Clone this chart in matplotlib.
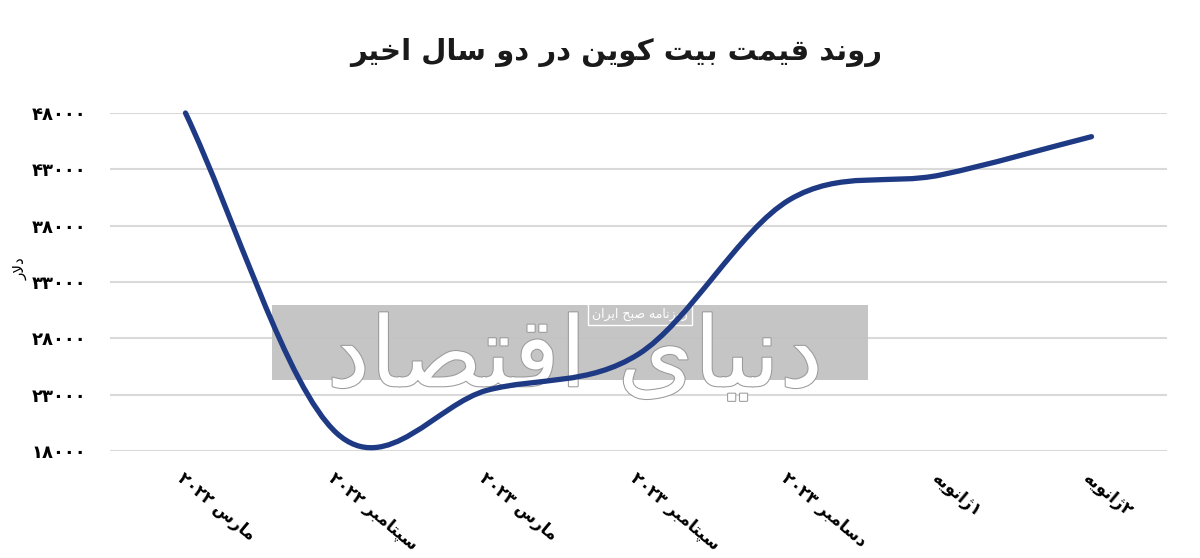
import matplotlib
matplotlib.use("Agg")
import matplotlib.pyplot as plt
import matplotlib.patheffects as pe
from matplotlib.path import Path
from matplotlib.patches import PathPatch, Rectangle

title = "روند قیمت بیت کوین در دو سال اخیر"
y_label = "دلار"
months = ["مارس ۲۰۲۲", "سپتامبر ۲۰۲۲", "مارس ۲۰۲۳", "سپتامبر ۲۰۲۳",
          "دسامبر ۲۰۲۳", "۱ژانویه", "۲ژانویه"]
price = [48000, 19600, 23400, 26600, 40300, 42500, 45900]
y_ticks = [18000, 23000, 28000, 33000, 38000, 43000, 48000]
watermark = "دنیای اقتصاد"
watermark_small = "روزنامه صبح ایران"

# matplotlib has no Arabic shaping, so map letters to presentation forms
# (isolated, final, initial, medial); None = letter never joins to the next one
FORMS = {
    "ا": ("\uFE8D", "\uFE8E", None, None),
    "ب": ("\uFE8F", "\uFE90", "\uFE91", "\uFE92"),
    "پ": ("\uFB56", "\uFB57", "\uFB58", "\uFB59"),
    "ت": ("\uFE95", "\uFE96", "\uFE97", "\uFE98"),
    "ج": ("\uFE9D", "\uFE9E", "\uFE9F", "\uFEA0"),
    "ح": ("\uFEA1", "\uFEA2", "\uFEA3", "\uFEA4"),
    "خ": ("\uFEA5", "\uFEA6", "\uFEA7", "\uFEA8"),
    "د": ("\uFEA9", "\uFEAA", None, None),
    "ر": ("\uFEAD", "\uFEAE", None, None),
    "ز": ("\uFEAF", "\uFEB0", None, None),
    "ژ": ("\uFB8A", "\uFB8B", None, None),
    "س": ("\uFEB1", "\uFEB2", "\uFEB3", "\uFEB4"),
    "ص": ("\uFEB9", "\uFEBA", "\uFEBB", "\uFEBC"),
    "ق": ("\uFED5", "\uFED6", "\uFED7", "\uFED8"),
    "ک": ("\uFB8E", "\uFB8F", "\uFB90", "\uFB91"),
    "ل": ("\uFEDD", "\uFEDE", "\uFEDF", "\uFEE0"),
    "م": ("\uFEE1", "\uFEE2", "\uFEE3", "\uFEE4"),
    "ن": ("\uFEE5", "\uFEE6", "\uFEE7", "\uFEE8"),
    "ه": ("\uFEE9", "\uFEEA", "\uFEEB", "\uFEEC"),
    "و": ("\uFEED", "\uFEEE", None, None),
    "ی": ("\uFBFC", "\uFBFD", "\uFBFE", "\uFBFF"),
}
DIGITS = "۰۱۲۳۴۵۶۷۸۹"


def fa(text):
    out = []
    prev_link = False
    i = 0
    while i < len(text):
        ch = text[i]
        if ch not in FORMS:
            out.append(ch)
            prev_link = False
            i += 1
            continue
        if ch == "ل" and i + 1 < len(text) and text[i + 1] == "ا":
            out.append("\uFEFC" if prev_link else "\uFEFB")
            prev_link = False
            i += 2
            continue
        iso, fin, ini, med = FORMS[ch]
        nxt = text[i + 1] if i + 1 < len(text) else ""
        next_link = ini is not None and nxt in FORMS
        if prev_link and next_link:
            out.append(med)
        elif prev_link:
            out.append(fin)
        elif next_link:
            out.append(ini)
        else:
            out.append(iso)
        prev_link = next_link
        i += 1
    # right-to-left: reverse, but keep digit runs left-to-right
    out.reverse()
    res, run = [], []
    for ch in out:
        if ch in DIGITS:
            run.append(ch)
        else:
            res.extend(reversed(run))
            run = []
            res.append(ch)
    res.extend(reversed(run))
    return "".join(res)


def fa_num(v):
    return str(v).translate(str.maketrans("0123456789", DIGITS))


def smooth_path(xs, ys):
    # Catmull-Rom style bezier through the points, like a spreadsheet "smoothed line"
    n = len(xs)
    m = []
    for i in range(n):
        if i == 0:
            m.append(ys[1] - ys[0])
        elif i == n - 1:
            m.append(ys[-1] - ys[-2])
        else:
            m.append((ys[i + 1] - ys[i - 1]) / 2)
    verts = [(xs[0], ys[0])]
    codes = [Path.MOVETO]
    for i in range(n - 1):
        dx = xs[i + 1] - xs[i]
        verts += [(xs[i] + dx / 3, ys[i] + m[i] * dx / 3),
                  (xs[i + 1] - dx / 3, ys[i + 1] - m[i + 1] * dx / 3),
                  (xs[i + 1], ys[i + 1])]
        codes += [Path.CURVE4] * 3
    return Path(verts, codes)


plt.rcParams["font.family"] = ["DejaVu Sans"]

fig = plt.figure(figsize=(12, 5.58), dpi=100)
ax = fig.add_axes([110 / 1200, 107 / 558, 1057 / 1200, 338 / 558])

x = list(range(len(months)))
ax.add_patch(PathPatch(smooth_path(x, price), fill=False, edgecolor="#1f3a85",
                       lw=3.8, capstyle="round", joinstyle="round",
                       zorder=5, clip_on=False))

ax.set_xlim(-0.5, len(months) - 0.5)
ax.set_ylim(18000, 48000)
ax.set_yticks(y_ticks)
ax.set_yticklabels([fa_num(v) for v in y_ticks], fontsize=13, fontweight="bold")
ax.set_xticks(x)
ax.set_xticklabels([fa(m) for m in months], fontsize=12, fontweight="bold",
                   rotation=-40, ha="left", va="top", rotation_mode="anchor")
ax.tick_params(axis="y", length=0, pad=17)
ax.tick_params(axis="x", length=0, pad=13)
ax.grid(axis="y", color="#d9d9d9", lw=1.5)
ax.set_axisbelow(True)
for s in ax.spines.values():
    s.set_visible(False)

ax.set_ylabel(fa(y_label), fontsize=11)
ax.yaxis.set_label_coords(-0.078, 0.54)

# newspaper watermark
ax.add_patch(Rectangle((0.153, 0.21), 0.564, 0.222, transform=ax.transAxes,
                       facecolor="#c2c2c2", edgecolor="none", alpha=0.95, zorder=2))
ax.text(0.44, 0.27, fa(watermark), transform=ax.transAxes, fontsize=70,
        color="white", ha="center", va="center", zorder=3,
        path_effects=[pe.withStroke(linewidth=1.5, foreground="#9a9a9a")])
ax.text(0.501, 0.405, fa(watermark_small), transform=ax.transAxes, fontsize=9,
        color="white", ha="center", va="center", zorder=4,
        bbox=dict(facecolor="none", edgecolor="white", lw=1, pad=3))

fig.text(616 / 1200, 1 - 52 / 558, fa(title), fontsize=21, fontweight="bold",
         color="#1a1a1a", ha="center", va="center")

fig.savefig("out.png", dpi=100)
